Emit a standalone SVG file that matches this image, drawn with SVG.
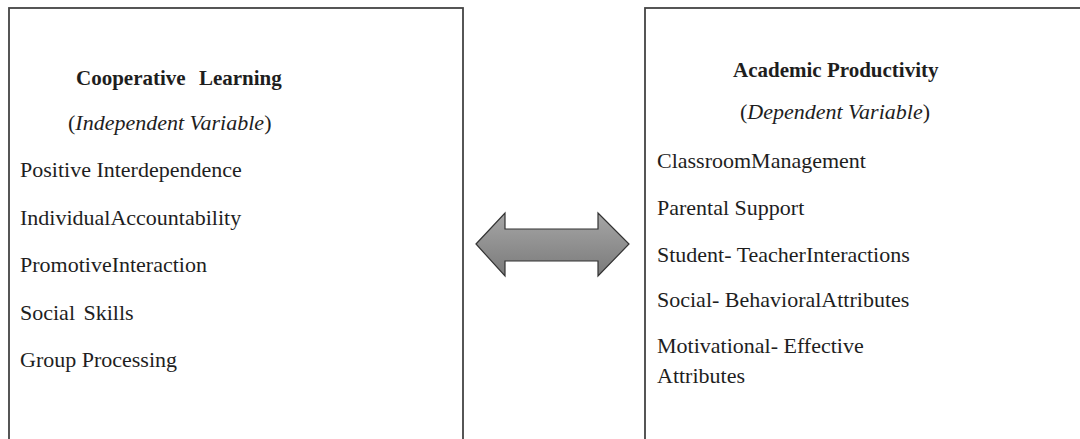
<svg xmlns="http://www.w3.org/2000/svg" width="1080" height="439" viewBox="0 0 1080 439">
  <style>
    .box { fill: #ffffff; stroke: #444444; stroke-width: 1.8; }
    .t { font-family: "Liberation Serif", "Times New Roman", serif; font-size: 22px; fill: #1e1e1e; }
    .h { font-weight: bold; font-size: 21px; }
    .i { font-style: italic; }
    .arrow { fill: url(#grayGrad); stroke: #333333; stroke-width: 1.2; stroke-linejoin: miter; }
  </style>
  <defs>
    <linearGradient id="grayGrad" x1="0" y1="0" x2="0" y2="1">
      <stop offset="0" stop-color="#a6a6a6"/>
      <stop offset="1" stop-color="#7a7a7a"/>
    </linearGradient>
  </defs>
  <rect width="1080" height="439" fill="#ffffff"/>

  <g id="independent">
    <rect class="box" x="9" y="8" width="454" height="450"/>
    <text class="t h" x="76" y="85" word-spacing="8">Cooperative Learning</text>
    <text class="t" x="68" y="130">(<tspan class="i">Independent Variable</tspan>)</text>
    <text class="t" x="20" y="177">Positive Interdependence</text>
    <text class="t" x="20" y="225">IndividualAccountability</text>
    <text class="t" x="20" y="272">PromotiveInteraction</text>
    <text class="t" x="20" y="320" word-spacing="3">Social Skills</text>
    <text class="t" x="20" y="367">Group Processing</text>
  </g>

  <g id="dependent">
    <rect class="box" x="645" y="8" width="460" height="450"/>
    <text class="t h" x="733" y="77">Academic Productivity</text>
    <text class="t" x="740" y="119">(<tspan class="i">Dependent Variable</tspan>)</text>
    <text class="t" x="657" y="168">ClassroomManagement</text>
    <text class="t" x="657" y="215">Parental Support</text>
    <text class="t" x="657" y="262">Student- TeacherInteractions</text>
    <text class="t" x="657" y="307">Social- BehavioralAttributes</text>
    <text class="t" x="657" y="353">Motivational- Effective</text>
    <text class="t" x="657" y="383">Attributes</text>
  </g>

  <g id="connectors">
    <polygon class="arrow" points="476,244 505,213 505,229 598,229 598,213 629,244 598,276 598,261 505,261 505,276"/>
  </g>
</svg>
